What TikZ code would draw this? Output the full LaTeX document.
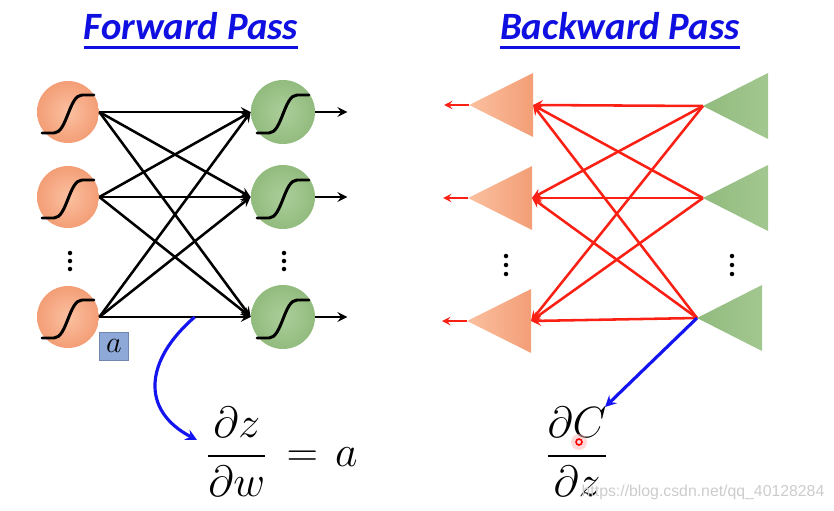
\documentclass[tikz,border=0pt]{standalone}
\usepackage{amsmath}
\usepackage{fontspec}
\newfontfamily\headfont{Carlito}
\newfontfamily\urlfont{Liberation Sans}
\usetikzlibrary{arrows,shapes,positioning,calc}

\definecolor{headblue}{RGB}{15,15,225}
\definecolor{orgin}{RGB}{251,192,160}
\definecolor{orgout}{RGB}{243,158,118}
\definecolor{grnin}{RGB}{172,206,154}
\definecolor{grnout}{RGB}{146,187,126}
\definecolor{grnside}{RGB}{162,199,144}
\definecolor{edgered}{RGB}{250,32,20}
\definecolor{pathblue}{RGB}{20,20,240}
\definecolor{aboxfill}{RGB}{142,168,216}

\tikzset{
  head/.style={font=\headfont\bfseries\itshape\fontsize{22}{26}\selectfont, text=headblue, inner sep=0pt},
  headline/.style={headblue, line width=1.6pt},
  inneuron/.style={circle, minimum size=1.24cm, inner sep=0pt, inner color=orgin, outer color=orgout},
  outneuron/.style={circle, minimum size=1.28cm, inner sep=0pt, inner color=grnin, outer color=grnout},
  sigm/.style={line width=1.7pt, line cap=round},
  fwd/.style={line width=1.45pt, -stealth},
  bwd/.style={edgered, line width=1.45pt, -stealth},
  grad/.style={pathblue, line width=1.8pt, -stealth},
  abox/.style={draw=aboxfill!80!black, fill=aboxfill, minimum width=0.58cm, minimum height=0.56cm, inner sep=0pt, font=\fontsize{19}{22}\selectfont},
  deriv/.style={font=\fontsize{23}{27}\selectfont, inner sep=0pt},
  wmark/.style={font=\urlfont\fontsize{9}{11}\selectfont, text=black!20}
}

\begin{document}
\begin{tikzpicture}[x=0.02cm,y=-0.02cm]
\useasboundingbox (0,0) rectangle (834,510);

% titles
\node[head, anchor=base] (tfwd) at (191,40) {Forward Pass};
\draw[headline] ([yshift=-0.15cm]tfwd.base west) -- ([yshift=-0.15cm]tfwd.base east);
\node[head, anchor=base] (tbwd) at (620,40) {Backward Pass};
\draw[headline] ([yshift=-0.15cm]tbwd.base west) -- ([yshift=-0.15cm]tbwd.base east);

% forward pass
\foreach \n/\y in {1/112,2/197,3/317}{
  \node[inneuron] (i\n) at (68,\y) {};
  \node[outneuron] (o\n) at (283,\y) {};
}
\foreach \n in {i1,i2,i3,o1,o2,o3}
  \draw[sigm] ([shift={(-26,21)}]\n.center) -- ([shift={(-14,21)}]\n.center)
    .. controls ([shift={(-1,21)}]\n.center) and ([shift={(1,-17)}]\n.center) .. ([shift={(14,-17)}]\n.center)
    -- ([shift={(26,-17)}]\n.center);

\foreach \a in {1,2,3}
  \foreach \b in {1,2,3}
    \draw[fwd] (i\a.east) -- (o\b.west);
\foreach \n in {1,2,3}{
  \coordinate[right=0.64cm of o\n.east] (y\n);
  \draw[fwd] (o\n.east) -- (y\n);
}

\foreach \x in {70,284}
  \foreach \y in {253,261,269}
    \fill (\x,\y) circle[radius=0.045cm];

\node[abox] (av) at (114,346) {$a$};

\coordinate (wpt) at ($(i3.east)!0.63!(o3.west)$);
\coordinate (fzarr) at (197,440);
\draw[grad] (wpt) .. controls (145,360) and (140,410) .. (fzarr);
\node[deriv, anchor=west] (fz) at (206,452) {$\dfrac{\partial z}{\partial w}\mkern3mu=\mkern2mu a$};

% backward pass
\foreach \n/\x/\y in {1/469/105,2/468/198,3/467/321}{
  \shade[left color=orgin, right color=orgout] (\x,\y) -- (\x+64,\y-32) -- (\x+64,\y+32) -- cycle;
  \coordinate (bt\n) at (\x,\y);
  \coordinate (bb\n) at (\x+64,\y);
  \coordinate (bl\n) at (\x-25,\y);
}
\foreach \n/\x/\y in {1/703/106,2/703/198,3/697/318}{
  \shade[left color=grnout, right color=grnside] (\x,\y) -- (\x+65,\y-33) -- (\x+65,\y+33) -- cycle;
  \coordinate (gt\n) at (\x,\y);
}

\foreach \a in {1,2,3}
  \foreach \b in {1,2,3}
    \draw[bwd] (gt\a) -- (bb\b);
\foreach \n in {1,2,3}
  \draw[bwd, line width=1.1pt] (bt\n) -- (bl\n);

\foreach \x in {506,732}
  \foreach \y in {256,265,274}
    \fill (\x,\y) circle[radius=0.045cm];

\coordinate (fcarr) at (605,407);
\draw[grad] (gt3) -- (fcarr);
\node[deriv] (fc) at (577,452) {$\dfrac{\partial C}{\partial z}$};
\fill[red!30, opacity=0.5] (579,442) circle[radius=0.16cm];
\draw[red, line width=0.9pt] (579,442) circle[radius=0.06cm];

\node[wmark] (wm) at (703,492) {https://blog.csdn.net/qq\_40128284};
\end{tikzpicture}
\end{document}
